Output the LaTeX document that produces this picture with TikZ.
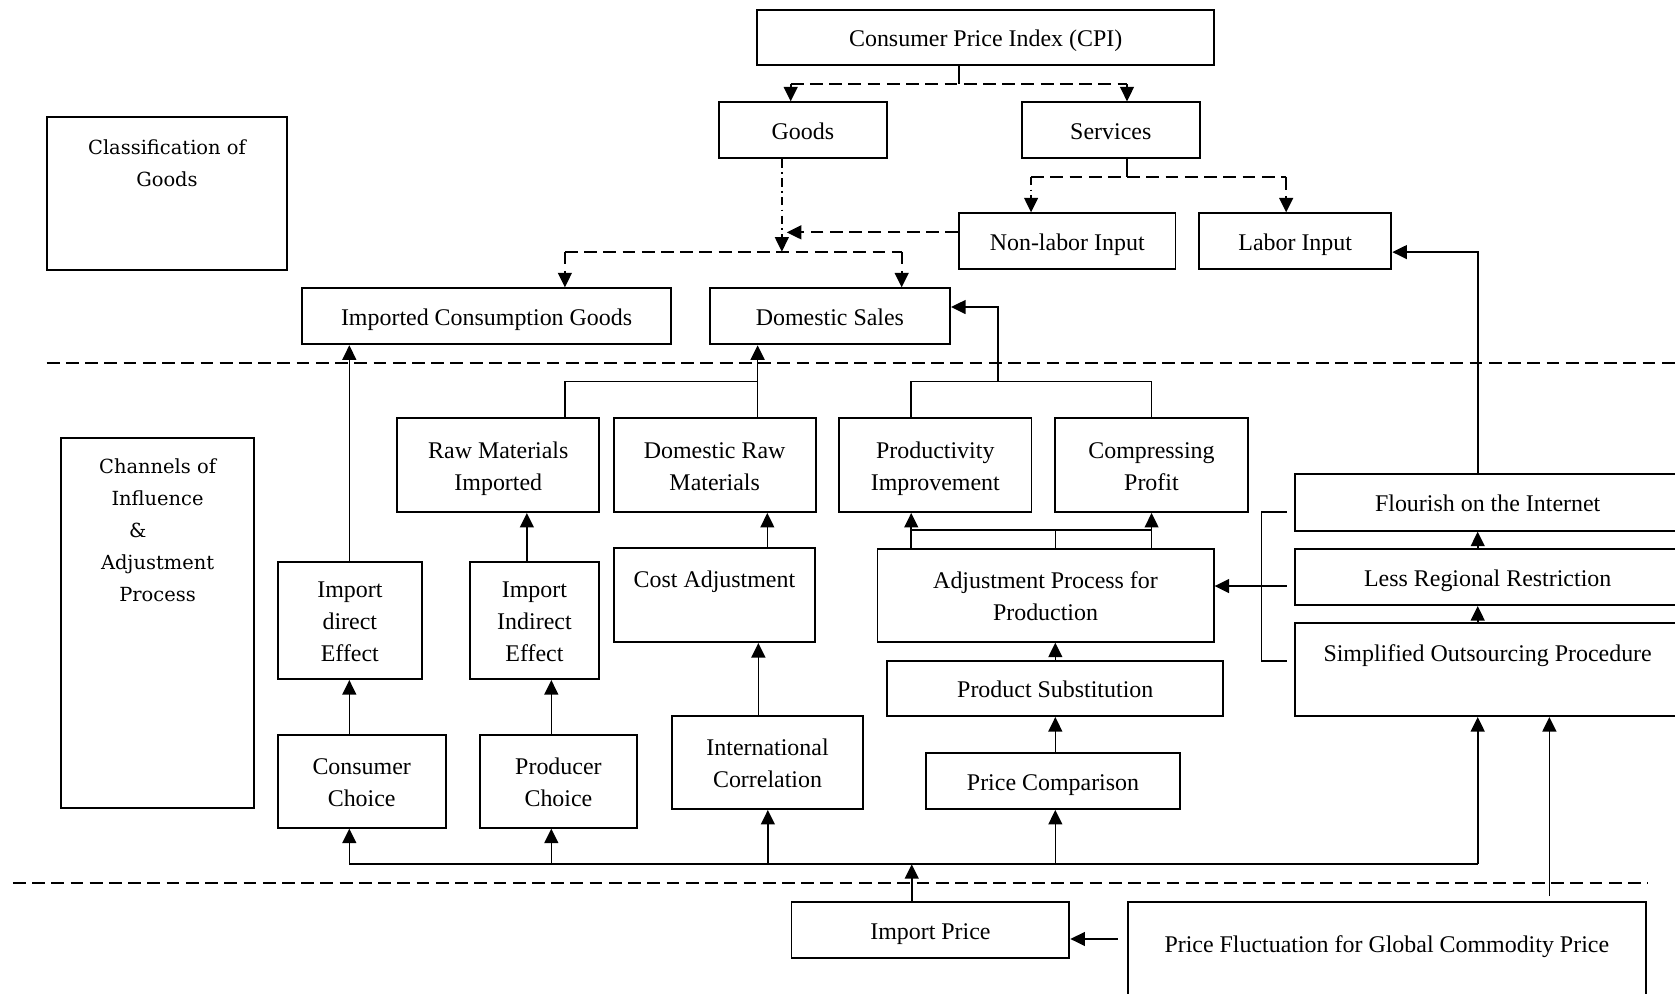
\documentclass[tikz,border=0pt]{standalone}
\usepackage{fontspec}
\setmainfont{Liberation Serif}
\newfontfamily\sidefont{DejaVu Serif}
\usetikzlibrary{arrows.meta}
\newcommand\mybox[7][]{\node[box, #1, minimum width={(#5-#3)*0.5pt}, minimum height={(#6-#4)*0.5pt}] (#2) at ({(#3+#5)/2},{(#4+#6)/2}) {#7};}
\begin{document}
\begin{tikzpicture}[x=0.5pt,y=-0.5pt,
  box/.style={draw, line width=0.9pt, inner sep=0pt, align=center, text height=9.6pt, text depth=0.8pt, font=\fontsize{11.2}{15}\selectfont},
  two/.style={text height=24.6pt},
  three/.style={text height=39.6pt},
  txt/.style={inner sep=0pt, align=center, text height=9.6pt, text depth=0.8pt, font=\fontsize{11.2}{15}\selectfont},
  side/.style={inner sep=0pt, align=center, font=\sidefont\fontsize{9.1}{15}\selectfont},
  ln/.style={line width=0.75pt},
  arr/.style={-{Triangle[length=6.8pt,width=6.5pt]}},
  dl/.style={line width=0.8pt, dash pattern=on 6pt off 3pt},
  dd/.style={line width=0.7pt, dash pattern=on 4pt off 2pt on 0.8pt off 2pt},
  sep/.style={line width=0.8pt, dash pattern=on 6pt off 3pt},
  bus/.style={line width=1pt}]
\useasboundingbox (0,0) rectangle (1568,930);
\clip (0,0) rectangle (1568,930);

% boxes
\mybox{cpi}{709}{9}{1136.4}{61}{Consumer Price Index (CPI)}
\mybox{goods}{672.7}{95.8}{830.5}{148.2}{Goods}
\mybox{serv}{956.6}{95.8}{1123}{148.2}{Services}
\mybox{nonlab}{897.7}{199.7}{1100.4}{252.1}{Non-labor Input}
\mybox{labor}{1122.4}{199.7}{1302.5}{252.1}{Labor Input}
\mybox{icg}{282.5}{269.9}{628.5}{322.3}{Imported Consumption Goods}
\mybox{dsales}{664.4}{269.9}{889.4}{322.3}{Domestic Sales}
\mybox{classif}{43.7}{109.9}{269}{252.7}{}
\mybox{chan}{57.1}{409.6}{237.8}{756.4}{}
\mybox[two]{rawimp}{372}{391.7}{561}{479.3}{Raw Materials\\Imported}
\mybox[two]{domraw}{574.5}{391.7}{763.5}{479.3}{Domestic Raw\\Materials}
\mybox[two]{prod}{785.5}{391.7}{965.6}{479.3}{Productivity\\Improvement}
\mybox[two]{comp}{987.8}{391.7}{1168}{479.3}{Compressing\\Profit}
\mybox{flour}{1212.3}{444}{1573}{496.8}{Flourish on the Internet}
\mybox{lessreg}{1212.3}{514}{1573}{566.4}{Less Regional Restriction}
\mybox{simpl}{1212.3}{583.5}{1573}{670.3}{}
\mybox[three]{idir}{260}{525.8}{395}{635.7}{Import\\direct\\Effect}
\mybox[three]{iind}{440}{525.8}{560.6}{635.7}{Import\\Indirect\\Effect}
\mybox{costadj}{574.4}{513.3}{763.2}{601}{}
\mybox[two]{adjproc}{821.4}{514}{1136.1}{600.7}{Adjustment Process for\\Production}
\mybox{prodsub}{830.5}{618.5}{1145.2}{670.3}{Product Substitution}
\mybox{pcomp}{866.5}{705.2}{1105}{757.3}{Price Comparison}
\mybox[two]{intl}{628.8}{670}{808.2}{757.3}{International\\Correlation}
\mybox[two]{cons}{260}{687.7}{417.2}{774.8}{Consumer\\Choice}
\mybox[two]{prodc}{448.9}{687.7}{596.6}{774.8}{Producer\\Choice}
\mybox{impp}{740.9}{844.1}{1001.1}{896.8}{Import Price}
\mybox{pfl}{1055.6}{844.1}{1540.8}{960}{}

% top-aligned texts
\node[txt] (costadjT) at (668.8,541.4) {Cost Adjustment};
\node[txt] (simplT) at (1392.6,610.7) {Simplified Outsourcing Procedure};
\node[txt] (pflT) at (1298.2,883) {Price Fluctuation for Global Commodity Price};
\node[side] (classifT) at (156.3,152.5) {Classification of\\Goods};
\node[side] (chanT) at (147.5,496.2) {Channels of\\Influence\\\&\kern18.5pt\relax\\Adjustment\\Process};

% separators
\coordinate (s1a) at (43.7,339.5); \coordinate (s1b) at (1568,339.5);
\coordinate (s2a) at (12,826.9); \coordinate (s2b) at (1542.4,826.9);
\draw[sep] (s1a) -- (s1b);
\draw[sep] (s2a) -- (s2b);

% CPI -> goods / services
\coordinate (kCPI) at (898,78.6);
\coordinate (kG) at (740.2,78.6);
\coordinate (kS) at (1055,78.6);
\draw[ln] (kCPI |- cpi.south) -- (kCPI);
\draw[dl] (kG) -- (kS);
\draw[dl,arr] (kG) -- (kG |- goods.north);
\draw[dl,arr] (kS) -- (kS |- serv.north);

% services -> inputs
\coordinate (kSv) at (1055,165.4);
\coordinate (kNL) at (965.2,165.4);
\coordinate (kLb) at (1204,165.4);
\draw[ln] (kSv |- serv.south) -- (kSv);
\draw[dl] (kNL) -- (kLb);
\draw[dd,arr] (kNL) -- (kNL |- nonlab.north);
\draw[dl,arr] (kLb) -- (kLb |- labor.north);

% goods / non-labor -> split
\coordinate (kGd) at (731.9,235.6);
\coordinate (kNLt) at (736.5,217.5);
\draw[dd,arr] (kGd |- goods.south) -- (kGd);
\draw[dl,arr] (kNLt -| nonlab.west) -- (kNLt);
\coordinate (kI) at (528.8,235.6);
\coordinate (kD) at (844.1,235.6);
\draw[dl] (kI) -- (kD);
\draw[dl,arr] (kI) -- (kI |- icg.north);
\draw[dl,arr] (kD) -- (kD |- dsales.north);

% lower to domestic sales / imported goods
\coordinate (cA) at (327,0);
\coordinate (cB) at (493.2,0);
\draw[ln,arr] (cA |- idir.north) -- (cA |- icg.south);
\draw[ln,arr] (cB |- iind.north) -- (cB |- rawimp.south);
\coordinate (kR) at (529,357.3);
\coordinate (kDR) at (709.2,357.3);
\draw[ln] (kR |- rawimp.north) -- (kR) -- (kDR);
\draw[ln,arr] (kDR |- domraw.north) -- (kDR |- dsales.south);
\coordinate (kP) at (853,357.3);
\coordinate (kC) at (1078,357.3);
\coordinate (kM) at (934,357.3);
\coordinate (kDS) at (934,287.4);
\draw[ln] (kP |- prod.north) -- (kP) -- (kC) -- (kC |- comp.north);
\draw[ln,arr] (kM) -- (kDS) -- (kDS -| dsales.east);

% cost adjustment / international correlation
\coordinate (cD2) at (718.3,0);
\coordinate (cD3) at (709.9,0);
\draw[ln,arr] (cD2 |- costadj.north) -- (cD2 |- domraw.south);
\draw[ln,arr] (cD3 |- intl.north) -- (cD3 |- costadj.south);

% adjustment process
\coordinate (kA1) at (853,496.2);
\coordinate (kA2) at (987.9,496.2);
\coordinate (kA3) at (1078,496.2);
\draw[ln] (kA1) -- (kA3);
\draw[ln,arr] (kA1 |- adjproc.north) -- (kA1 |- prod.south);
\draw[ln] (kA2 |- adjproc.north) -- (kA2);
\draw[ln,arr] (kA3 |- adjproc.north) -- (kA3 |- comp.south);
\draw[ln,arr] (kA2 |- prodsub.north) -- (kA2 |- adjproc.south);
\draw[ln,arr] (kA2 |- pcomp.north) -- (kA2 |- prodsub.south);

% choices
\coordinate (cE) at (516.1,0);
\draw[ln,arr] (cA |- cons.north) -- (cA |- idir.south);
\draw[ln,arr] (cE |- prodc.north) -- (cE |- iind.south);

% right column
\coordinate (cR) at (1383.3,0);
\draw[ln,arr] (cR |- simpl.north) -- (cR |- lessreg.south);
\draw[ln,arr] (cR |- lessreg.north) -- (cR |- flour.south);
\coordinate (kL) at (1383.3,236);
\draw[ln,arr] (kL |- flour.north) -- (kL) -- (kL -| labor.east);
\coordinate (kBt) at (1204.7,479.3);
\coordinate (kBr1) at (1181,479.3);
\coordinate (kBr2) at (1181,618.5);
\coordinate (kBb) at (1204.7,618.5);
\draw[ln] (kBt) -- (kBr1) -- (kBr2) -- (kBb);
\coordinate (kLR) at (1204.7,548.6);
\draw[ln,arr] (kLR) -- (kLR -| adjproc.east);

% bus
\coordinate (kB1) at (327,809);
\coordinate (kB2) at (516.1,809);
\coordinate (kB3) at (718.8,809);
\coordinate (kB4) at (987.9,809);
\coordinate (kB5) at (1383.3,809);
\coordinate (kB6) at (853.5,809);
\draw[bus] (kB1) -- (kB5);
\draw[ln,arr] (kB1) -- (kB1 |- cons.south);
\draw[ln,arr] (kB2) -- (kB2 |- prodc.south);
\draw[ln,arr] (kB3) -- (kB3 |- intl.south);
\draw[ln,arr] (kB4) -- (kB4 |- pcomp.south);
\draw[ln,arr] (kB5) -- (kB5 |- simpl.south);
\draw[ln,arr] (kB6 |- impp.north) -- (kB6);

% price fluctuation
\coordinate (kPF) at (1046.5,879);
\draw[ln,arr] (kPF) -- (kPF -| impp.east);
\coordinate (kPF2) at (1450.4,838.8);
\draw[ln,arr] (kPF2) -- (kPF2 |- simpl.south);
\end{tikzpicture}
\end{document}
